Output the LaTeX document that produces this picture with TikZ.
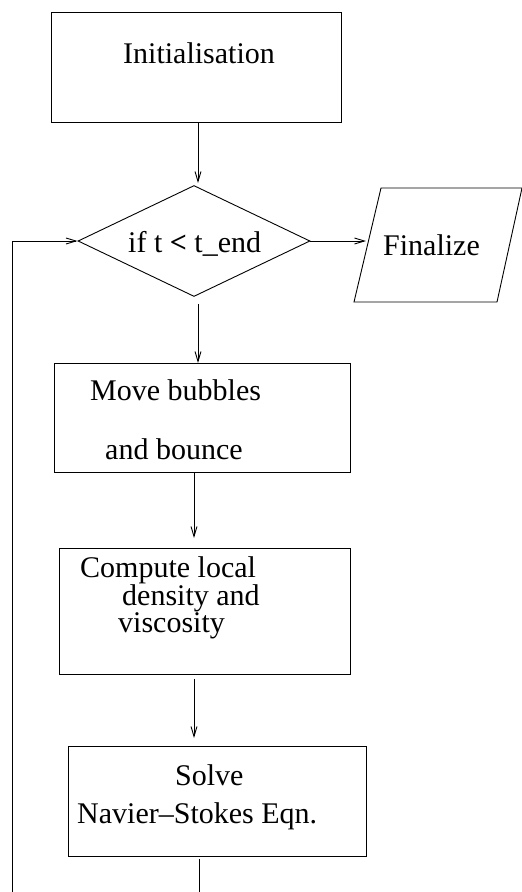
\documentclass[tikz,border=0pt]{standalone}
\usepackage{fontspec}
\setmainfont{Liberation Serif}
\usetikzlibrary{arrows.meta,shapes.geometric}
\begin{document}
\begin{tikzpicture}[x=1pt,y=-1pt,
  line/.style={draw=black, line width=0.9pt},
  arr/.style={line, -{Straight Barb[length=10pt,width=6pt]}},
  stepbox/.style={line, rectangle, anchor=north west, inner sep=0pt},
  txt/.style={anchor=base west, inner sep=0pt, font=\fontsize{30}{30}\selectfont}]
\useasboundingbox (0,0) rectangle (522,892);

% process boxes
\node[stepbox, minimum width=290pt, minimum height=110pt] (init) at (51,12) {};
\node[stepbox, minimum width=296pt, minimum height=109pt] (move) at (54,363) {};
\node[stepbox, minimum width=291pt, minimum height=126pt] (comp) at (59,548) {};
\node[stepbox, minimum width=298pt, minimum height=110pt] (solve) at (68,746) {};

% decision
\node[line, diamond, minimum width=232pt, minimum height=111pt, inner sep=0pt] (dec) at (194,241) {};

% output parallelogram
\coordinate (fa) at (381,188);
\coordinate (fb) at (522,188);
\coordinate (fc) at (497,302);
\coordinate (fd) at (354,302);
\coordinate (fin) at (366,241);
\draw[line] (fa) -- (fb) -- (fc) -- (fd) -- cycle;

% labels
\node[txt] (tinit) at (123,63) {Initialisation};
\node[txt] (tdec) at (128,252) {if t \textbf{<} t\_end};
\node[txt] (tfin) at (383,255) {Finalize};
\node[txt] (tmove1) at (90,400) {Move bubbles};
\node[txt] (tmove2) at (105,459) {and bounce};
\node[txt] (tcomp1) at (80,577) {Compute local};
\node[txt] (tcomp2) at (122,605) {density and};
\node[txt] (tcomp3) at (118,632) {viscosity};
\node[txt] (tsolve1) at (175,785) {Solve};
\node[txt] (tsolve2) at (77,823) {Navier--Stokes Eqn.};

% connectors
\coordinate (b1) at (199,892);
\coordinate (b2) at (12,892);
\draw[arr, shorten >=2pt] (init.south -| 198,0) -- (dec.north -| 198,0);
\draw[arr] (dec.east) -- (fin);
\draw[arr, shorten <=7pt] (dec.south -| 198,0) -- (move.north -| 198,0);
\draw[arr, shorten >=10pt] (move.south -| 194,0) -- (comp.north -| 194,0);
\draw[arr, shorten <=4pt, shorten >=8pt] (comp.south -| 194,0) -- (solve.north -| 194,0);
\draw[line, shorten <=2pt] (solve.south -| b1) -- (b1);
\draw[arr] (b2) |- (dec.west);
\end{tikzpicture}
\end{document}
